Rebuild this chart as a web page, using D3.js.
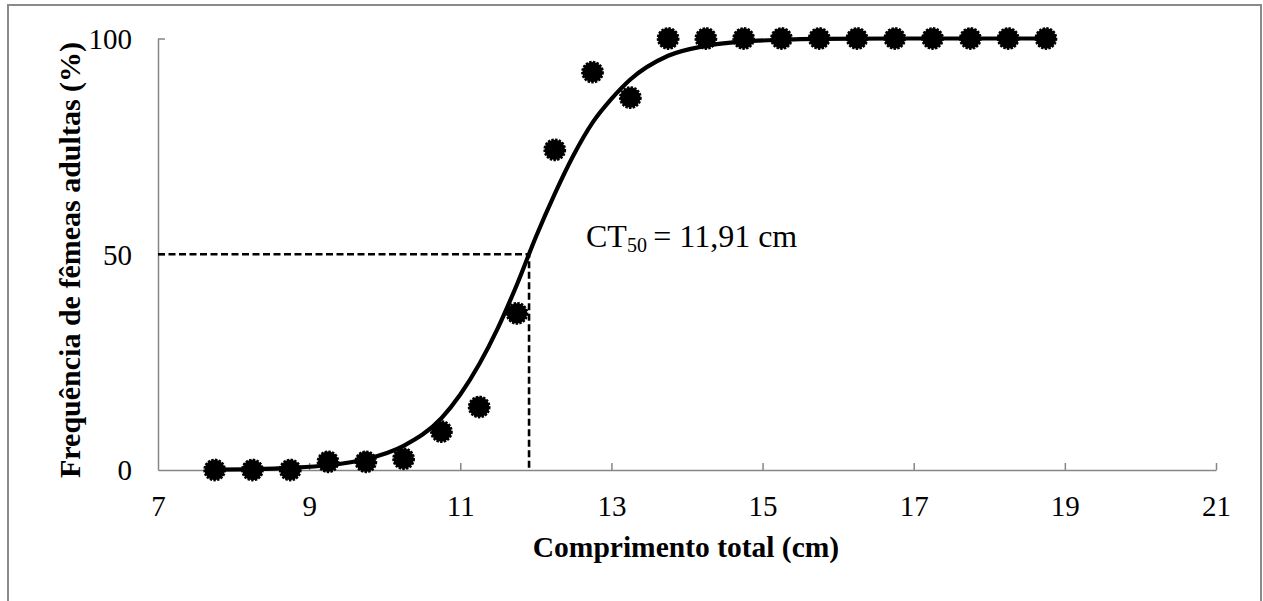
<!DOCTYPE html>
<html>
<head>
<meta charset="utf-8">
<script src="https://cdn.jsdelivr.net/npm/d3@7"></script>
<style>
  html, body { margin: 0; padding: 0; background: #fff; }
  svg { display: block; }
</style>
</head>
<body>
<svg id="chart" width="1263" height="601"></svg>
<script>
// Observed data: total length class midpoints (cm) and % adult females
const lengths = [7.75, 8.25, 8.75, 9.25, 9.75, 10.25, 10.75, 11.25, 11.75, 12.25, 12.75, 13.25, 13.75, 14.25, 14.75, 15.25, 15.75, 16.25, 16.75, 17.25, 17.75, 18.25, 18.75];
const adultPct = [0, 0, 0, 1.9, 1.9, 2.6, 8.9, 14.6, 36.3, 74.2, 92.2, 86.3, 100, 100, 100, 100, 100, 100, 100, 100, 100, 100, 100];

// Fitted curve
const curveX = [7.75, 8.25, 8.75, 9.25, 9.75, 10.25, 10.75, 11.0, 11.25, 11.5, 11.75, 12.0, 12.25, 12.5, 12.75, 13.0, 13.25, 13.75, 14.25, 14.75, 15.25, 15.75, 16.75, 17.75, 18.75];
const curveY = [0.1, 0.2, 0.5, 1.1, 2.5, 5.6, 12, 17.5, 24.5, 33, 43, 54, 64, 73, 80.5, 86, 90.5, 96, 98.3, 99.3, 99.7, 99.9, 100, 100, 100];

// Size at 50% maturity
const ct50 = 11.91;
const ct50Pct = 50;

// Axis ticks
const xTicks = [7, 9, 11, 13, 15, 17, 19, 21];
const yTicks = [0, 50, 100];

const FONT = "'Liberation Serif', 'Times New Roman', serif";
const svg = d3.select("#chart");
const axisColor = "#868686";

// frame
svg.append("rect")
  .attr("x", 8).attr("y", 5).attr("width", 1253).attr("height", 640)
  .attr("fill", "#fff").attr("stroke", "#8a8a8a").attr("stroke-width", 2);

const x = d3.scaleLinear().domain([7, 21]).range([158, 1216]);
const y = d3.scaleLinear().domain([0, 100]).range([470, 38.5]);

// X axis
const xAxis = d3.axisBottom(x).tickValues(xTicks).tickSizeInner(-7).tickSizeOuter(0).tickFormat(d3.format("d"));
const gx = svg.append("g").attr("transform", `translate(0,${y(0)})`).call(xAxis);
gx.select(".domain").attr("stroke", axisColor).attr("stroke-width", 1.5);
gx.selectAll(".tick line").attr("stroke", axisColor).attr("stroke-width", 1.5);
gx.selectAll(".tick").filter(d => d === 7).select("line").remove();
gx.selectAll(".tick text").attr("y", 0).attr("dy", 46).attr("font-size", 29)
  .style("font-family", FONT).attr("fill", "#000");

// Y axis
const yAxis = d3.axisLeft(y).tickValues(yTicks).tickSizeInner(-7).tickSizeOuter(0).tickFormat(d3.format("d"));
const gy = svg.append("g").attr("transform", `translate(${x(7)},0)`).call(yAxis);
gy.select(".domain").attr("stroke", axisColor).attr("stroke-width", 1.5);
gy.selectAll(".tick line").attr("stroke", axisColor).attr("stroke-width", 1.5);
gy.selectAll(".tick").filter(d => d === 0).select("line").remove();
gy.selectAll(".tick text").attr("x", -26).attr("dy", "0.34em").attr("font-size", 29)
  .style("font-family", FONT).attr("fill", "#000");

// Dashed reference lines
svg.append("path")
  .attr("d", `M${x(7)},${y(ct50Pct)}H${x(ct50)}V${y(0)}`)
  .attr("fill", "none").attr("stroke", "#000").attr("stroke-width", 2.6)
  .attr("stroke-dasharray", "7,3.5");

// Fitted curve
const line = d3.line().x((d, i) => x(curveX[i])).y(d => y(d)).curve(d3.curveMonotoneX);
svg.append("path").datum(curveY)
  .attr("d", line)
  .attr("fill", "none").attr("stroke", "#000").attr("stroke-width", 4.2)
  .attr("stroke-linejoin", "round");

// Markers
svg.append("g").selectAll("circle").data(adultPct).join("circle")
  .attr("cx", (d, i) => x(lengths[i]))
  .attr("cy", d => y(d))
  .attr("r", 10.2)
  .attr("fill", "#000")
  .attr("stroke", "#000").attr("stroke-width", 2.4)
  .attr("stroke-dasharray", "2.4,1.3");

// Annotation
const ann = svg.append("text").attr("x", 586).attr("y", 247).attr("font-size", 32)
  .style("font-family", FONT).attr("fill", "#000");
ann.append("tspan").text("CT");
ann.append("tspan").attr("font-size", 20).attr("dy", 5).text("50");
ann.append("tspan").attr("dy", -5).text("\u2009= 11,91 cm");

// Axis titles
svg.append("text")
  .attr("x", 686).attr("y", 557)
  .attr("text-anchor", "middle").attr("font-size", 29.5).attr("font-weight", "bold")
  .style("font-family", FONT).attr("fill", "#000")
  .text("Comprimento total (cm)");

svg.append("text")
  .attr("transform", "translate(80,260) rotate(-90)")
  .attr("text-anchor", "middle").attr("font-size", 30).attr("font-weight", "bold")
  .style("font-family", FONT).attr("fill", "#000")
  .text("Frequência de fêmeas adultas (%)");
</script>
</body>
</html>
